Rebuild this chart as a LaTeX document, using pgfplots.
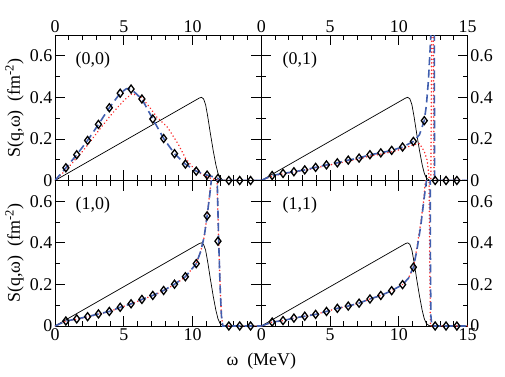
\documentclass[border=0pt]{standalone}
\usepackage{fontspec}
\setmainfont{Liberation Serif}
\usepackage{pgfplots}
\pgfplotsset{compat=1.18}
\newcommand\lbl{\fontsize{18}{21}\selectfont}
\definecolor{dashblue}{RGB}{65,95,175}
\definecolor{dotred}{RGB}{250,40,40}

\pgfplotsset{
  panel/.style={
    scale only axis, width=206.3bp, height=145.5bp,
    xmin=0, xmax=15, ymin=0, ymax=0.7,
    xtick={0,5,10,15}, minor xtick={1,2,3,4,6,7,8,9,11,12,13,14},
    ytick={0,0.2,0.4,0.6}, minor ytick={0.1,0.3,0.5},
    tick align=inside, xtick pos=both, ytick pos=both,
    major tick length=10bp, minor tick length=5bp,
    every tick/.style={black, line width=0.8bp},
    axis line style={line width=0.9bp},
    tick label style={font=\lbl, inner sep=2.5bp},
    /pgf/number format/assume math mode=true,
    yticklabel style={/pgf/number format/fixed},
    label style={font=\lbl},
  },
  solidk/.style={black, line width=0.7bp, no marks},
  dashb/.style={dashblue, line width=1.6bp, dash pattern=on 8bp off 4.5bp, no marks},
  dotr/.style={dotred, line width=1.7bp, line cap=round, dash pattern=on 0.01bp off 3.6bp, no marks},
  diam/.style={only marks, mark=diamond, mark size=4bp,
    mark options={draw=black, fill=none, line width=1.3bp, solid}},
}

% free response (same in every panel)
\pgfplotstableread{
x y
0 0
10.5 0.397
10.65 0.40
10.8 0.393
10.95 0.365
11.1 0.31
11.3 0.225
11.5 0.145
11.7 0.075
11.85 0.035
12.0 0.012
12.2 0.002
12.5 0
15 0
}\free

\begin{document}
\begin{tikzpicture}

% ---------------- (0,0) top left
\begin{axis}[panel, at={(0,145.5bp)},
  xticklabel pos=upper, yticklabel pos=left,
  xticklabels={0,5,10,{}},
  ylabel={S(q,ω)\ \ (fm\textsuperscript{-2})},
  ylabel style={at={(axis description cs:-0.170,0.5)}, anchor=base, inner sep=0pt}]
\addplot[solidk] table {\free};
\addplot[dotr] coordinates {
  (0,0) (1,0.065) (2,0.14) (3,0.225) (4,0.31) (5,0.385) (5.6,0.418)
  (6.2,0.405) (6.8,0.36) (7.4,0.305) (8.2,0.255) (9.0,0.17) (9.5,0.105)
  (10,0.065) (10.5,0.037) (11,0.018) (11.5,0.007) (12,0) (15,0)};
\addplot[dashb] coordinates {
  (0,0) (0.79,0.061) (1.58,0.124) (2.37,0.193) (3.16,0.27) (3.95,0.35)
  (4.74,0.42) (5.2,0.442) (5.53,0.44) (6.32,0.392) (7.11,0.296)
  (7.9,0.202) (8.69,0.129) (9.48,0.079) (10.27,0.045) (11.06,0.026)
  (11.5,0.018) (11.85,0.01) (12.1,0) (15,0)};
\addplot[diam] coordinates {
  (0.79,0.061) (1.58,0.124) (2.37,0.193) (3.16,0.27) (3.95,0.35)
  (4.74,0.42) (5.53,0.44) (6.32,0.392) (7.11,0.296) (7.9,0.202)
  (8.69,0.129) (9.48,0.079) (10.27,0.045) (11.06,0.026) (11.85,0.01)
  (12.64,0) (13.43,0) (14.22,0)};
\node[font=\lbl] at (axis cs:2.75,0.58) {(0,0)};
\end{axis}

% ---------------- (0,1) top right
\begin{axis}[panel, at={(206.3bp,145.5bp)},
  xticklabel pos=upper, yticklabel pos=right]
\addplot[solidk] table {\free};
\addplot[dotr] coordinates {
  (0,0) (0.79,0.022) (1.58,0.032) (2.37,0.04) (3.16,0.049) (3.95,0.06)
  (4.74,0.072) (5.53,0.082) (6.32,0.094) (7.11,0.104) (7.9,0.118)
  (8.69,0.127) (9.48,0.138) (10.27,0.152) (11.06,0.172) (11.5,0.178)
  (11.85,0.14) (12.05,0.1) (12.2,0.02) (12.3,-0.3) (12.42,1.0)
  (12.5,0.8) (12.53,0.4) (12.56,0) (15,0)};
\addplot[dashb] coordinates {
  (0,0) (0.79,0.024) (1.58,0.034) (2.37,0.042) (3.16,0.051) (3.95,0.063)
  (4.74,0.075) (5.53,0.085) (6.32,0.098) (7.11,0.108) (7.9,0.124)
  (8.69,0.133) (9.48,0.145) (10.27,0.161) (11.06,0.188) (11.5,0.22)
  (11.85,0.288) (12.0,0.36) (12.15,0.48) (12.33,0.7) (12.45,0.9)
  (12.55,0.9) (12.58,0.7) (12.6,0) (15,0)};
\addplot[diam] coordinates {
  (0.79,0.024) (1.58,0.034) (2.37,0.042) (3.16,0.051) (3.95,0.063)
  (4.74,0.075) (5.53,0.085) (6.32,0.098) (7.11,0.108) (7.9,0.124)
  (8.69,0.133) (9.48,0.145) (10.27,0.161) (11.06,0.188) (11.85,0.288)
  (12.64,0) (13.43,0) (14.22,0)};
\node[font=\lbl] at (axis cs:2.8,0.58) {(0,1)};
\end{axis}

% ---------------- (1,0) bottom left
\begin{axis}[panel, at={(0,0)},
  xticklabel pos=lower, yticklabel pos=left,
  xticklabels={0,5,10,{}},
  xlabel={ω\ \ (MeV)},
  xlabel style={at={(axis description cs:1,0)}, anchor=base, yshift=-39bp},
  ylabel={S(q,ω)\ \ (fm\textsuperscript{-2})},
  ylabel style={at={(axis description cs:-0.170,0.5)}, anchor=base, inner sep=0pt}]
\addplot[solidk] table {\free};
\addplot[dotr] coordinates {
  (0,0) (0.79,0.023) (1.58,0.033) (2.37,0.044) (3.16,0.057) (3.95,0.069)
  (4.74,0.089) (5.53,0.106) (6.32,0.127) (7.11,0.146) (7.9,0.17)
  (8.69,0.2) (9.48,0.236) (10.27,0.30) (10.6,0.36) (10.85,0.43)
  (11.06,0.53) (11.25,0.64) (11.4,0.73) (11.55,0.85) (11.72,0.85)
  (11.82,0.6) (11.9,0.41) (12.0,0.2) (12.1,0.05) (12.2,0) (15,0)};
\addplot[dashb] coordinates {
  (0,0) (0.79,0.024) (1.58,0.034) (2.37,0.045) (3.16,0.058) (3.95,0.070)
  (4.74,0.09) (5.53,0.107) (6.32,0.128) (7.11,0.147) (7.9,0.171)
  (8.69,0.201) (9.48,0.237) (10.27,0.30) (10.6,0.36) (10.85,0.43)
  (11.06,0.53) (11.25,0.63) (11.4,0.72) (11.55,0.85) (11.75,0.85)
  (11.83,0.6) (11.9,0.41) (12.0,0.2) (12.1,0.05) (12.2,0) (15,0)};
\addplot[diam] coordinates {
  (0.79,0.024) (1.58,0.034) (2.37,0.045) (3.16,0.058) (3.95,0.070)
  (4.74,0.09) (5.53,0.107) (6.32,0.128) (7.11,0.147) (7.9,0.171)
  (8.69,0.201) (9.48,0.237) (10.27,0.30) (11.06,0.53) (11.85,0.408)
  (12.64,0) (13.43,0) (14.22,0)};
\node[font=\lbl] at (axis cs:2.75,0.58) {(1,0)};
\end{axis}

% ---------------- (1,1) bottom right
\begin{axis}[panel, at={(206.3bp,0)},
  xticklabel pos=lower, yticklabel pos=right]
\addplot[solidk] table {\free};
\addplot[dotr] coordinates {
  (0,0) (0.79,0.019) (1.58,0.026) (2.37,0.038) (3.16,0.047) (3.95,0.056)
  (4.74,0.070) (5.53,0.085) (6.32,0.096) (7.11,0.11) (7.9,0.13)
  (8.69,0.147) (9.48,0.17) (10.27,0.199) (10.7,0.23) (11.06,0.283)
  (11.3,0.37) (11.6,0.5) (11.8,0.6) (12.0,0.75) (12.05,0.9) (12.15,0.9)
  (12.2,0.7) (12.25,0.3) (12.3,0) (15,0)};
\addplot[dashb] coordinates {
  (0,0) (0.79,0.019) (1.58,0.026) (2.37,0.038) (3.16,0.047) (3.95,0.056)
  (4.74,0.070) (5.53,0.085) (6.32,0.096) (7.11,0.11) (7.9,0.13)
  (8.69,0.147) (9.48,0.17) (10.27,0.199) (10.7,0.23) (11.06,0.283)
  (11.3,0.36) (11.6,0.485) (11.85,0.62) (12.05,0.72) (12.15,0.9)
  (12.25,0.9) (12.28,0.7) (12.3,0.3) (12.33,0.05) (12.4,0) (15,0)};
\addplot[diam] coordinates {
  (0.79,0.019) (1.58,0.026) (2.37,0.038) (3.16,0.047) (3.95,0.056)
  (4.74,0.070) (5.53,0.085) (6.32,0.096) (7.11,0.11) (7.9,0.13)
  (8.69,0.147) (9.48,0.17) (10.27,0.199) (11.06,0.283)
  (12.64,0) (13.43,0) (14.22,0)};
\node[font=\lbl] at (axis cs:2.8,0.58) {(1,1)};
\end{axis}

\path (-55bp,-51bp) rectangle (450bp,326bp);
\end{tikzpicture}
\end{document}
